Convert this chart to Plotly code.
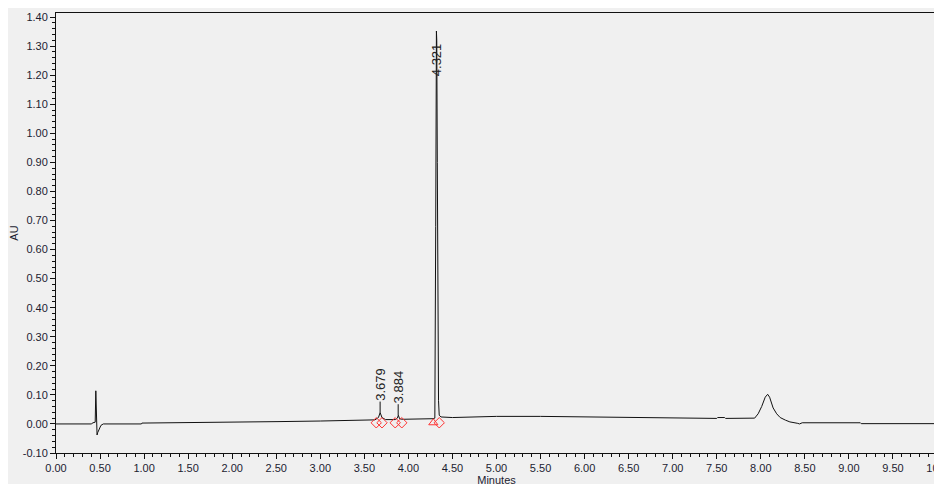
import plotly.graph_objects as go

# Chromatogram trace (minutes, AU)
time_min = [0.00, 0.40, 0.42, 0.445, 0.452, 0.458, 0.466, 0.473, 0.49, 0.51, 0.537, 0.97, 0.975,
            1.50, 2.00, 2.50, 2.52, 3.00, 3.50, 3.62, 3.66, 3.679, 3.70, 3.74, 3.85, 3.875,
            3.886, 3.90, 3.93, 4.00, 4.20, 4.28, 4.300, 4.306, 4.310, 4.318, 4.322, 4.328,
            4.335, 4.342, 4.350, 4.37, 4.50, 4.80, 5.00, 5.50, 6.00, 6.50, 7.00, 7.50, 7.51,
            7.59, 7.60, 7.90, 7.93, 7.97, 8.01, 8.05, 8.078, 8.10, 8.14, 8.18, 8.22, 8.28,
            8.33, 8.42, 8.44, 8.47, 8.70, 8.72, 8.78, 9.13, 9.14, 10.00]
absorb_au = [0.000, 0.000, 0.004, 0.006, 0.114, 0.030, -0.038, -0.030, -0.015, -0.005, 0.000,
             0.000, 0.003, 0.004, 0.005, 0.006, 0.008, 0.010, 0.013, 0.014, 0.022, 0.039,
             0.022, 0.015, 0.015, 0.020, 0.030, 0.018, 0.016, 0.016, 0.018, 0.018, 0.020,
             0.300, 0.680, 1.352, 1.320, 0.900, 0.400, 0.080, 0.030, 0.024, 0.022, 0.024,
             0.026, 0.026, 0.024, 0.022, 0.020, 0.019, 0.022, 0.022, 0.019, 0.018, 0.020,
             0.035, 0.060, 0.092, 0.102, 0.092, 0.055, 0.035, 0.022, 0.013, 0.007, 0.002,
             0.000, 0.004, 0.004, 0.002, 0.004, 0.004, 0.001, 0.001]

# Peak labels
peak_rt = [3.679, 3.884, 4.321]
peak_label = ["3.679", "3.884", "4.321"]
peak_apex = [0.039, 0.030, 1.352]

# Integration marks
diamond_t = [3.635, 3.700, 3.850, 3.925, 4.350]
diamond_v = [0.004, 0.004, 0.004, 0.004, 0.004]
triangle_t = [4.283]
triangle_v = [0.004]

x_ticks = [i * 0.5 for i in range(21)]
x_ticktext = ["%.2f" % v for v in x_ticks[:-1]] + ["10.0"]
y_ticks = [round(-0.1 + i * 0.1, 2) for i in range(16)]
y_ticktext = ["%.2f" % v for v in y_ticks]

BG = "#f0f0f0"
TXT = "#1c1c30"
FONT = "Liberation Sans, Arial"

fig = go.Figure()
fig.add_trace(go.Scatter(x=time_min, y=absorb_au, mode="lines",
                         line=dict(color="#111111", width=1), hoverinfo="skip"))
fig.add_trace(go.Scatter(x=diamond_t, y=diamond_v, mode="markers",
                         marker=dict(symbol="diamond-open", size=8, color="#ff3333",
                                     line=dict(width=1, color="#ff3333"))))
fig.add_trace(go.Scatter(x=triangle_t, y=triangle_v, mode="markers",
                         marker=dict(symbol="triangle-up-open", size=8, color="#ff3333",
                                     line=dict(width=1, color="#ff3333"))))

annotations = []
for rt, lab, ap in zip(peak_rt[:2], peak_label[:2], peak_apex[:2]):
    annotations.append(dict(x=rt, y=ap, xref="x", yref="y", text=lab, textangle=-90,
                            showarrow=True, arrowhead=0, arrowwidth=1, arrowcolor="#111",
                            ax=0, ay=-28, standoff=0, borderpad=0,
                            font=dict(family=FONT, size=13, color="#222")))
annotations.append(dict(x=peak_rt[2], y=peak_apex[2], xref="x", yref="y", text=peak_label[2],
                        textangle=-90, showarrow=False, yanchor="top", xanchor="center",
                        yshift=-10, font=dict(family=FONT, size=13, color="#222")))

W, H = 942, 484

fig.update_layout(
    width=W, height=H, margin=dict(l=48, r=13, t=5, b=39, autoexpand=False),
    paper_bgcolor=BG, plot_bgcolor=BG, showlegend=False,
    font=dict(family=FONT, size=11, color=TXT),
    annotations=annotations,
    xaxis=dict(range=[0, 10], tickvals=x_ticks, ticktext=x_ticktext, ticks="outside",
               ticklen=5, tickwidth=1, tickcolor="#111", showgrid=False, zeroline=False,
               showline=True, linecolor="#111", linewidth=1, mirror=True, automargin=False,
               ticklabeloverflow="allow",
               minor=dict(dtick=0.1, ticks="outside", ticklen=3, tickcolor="#111", showgrid=False),
               title=dict(text="Minutes", standoff=2, font=dict(size=11)),
               tickfont=dict(size=11, color=TXT)),
    yaxis=dict(range=[-0.1, 1.414], tickvals=y_ticks, ticktext=y_ticktext, ticks="outside",
               ticklen=5, tickwidth=1, tickcolor="#111", showgrid=False, zeroline=False,
               showline=True, linecolor="#111", linewidth=1, mirror=True, automargin=False,
               ticklabeloverflow="allow",
               minor=dict(tick0=0, dtick=0.02, ticks="outside", ticklen=3, tickcolor="#111",
                          showgrid=False),
               title=dict(text="AU", standoff=4, font=dict(size=11)),
               tickfont=dict(size=11, color=TXT)),
)

fig.write_html("out.html")
